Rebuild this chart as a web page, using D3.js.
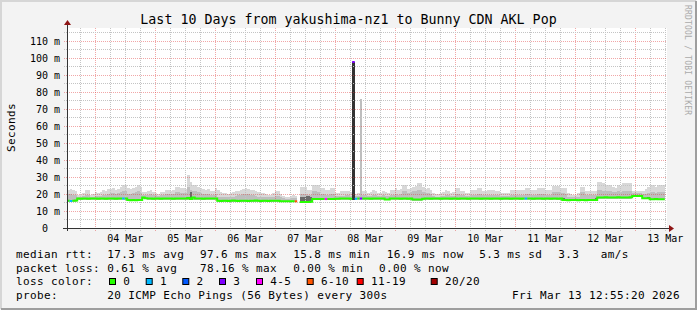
<!DOCTYPE html>
<html lang="en">
<head>
<meta charset="UTF-8">
<title>Last 10 Days from yakushima-nz1 to Bunny CDN AKL Pop</title>
<script src="https://cdnjs.cloudflare.com/ajax/libs/d3/7.8.5/d3.min.js"></script>
<style>
  html, body { margin: 0; padding: 0; background: #f3f3f3; }
  svg { display: block; }
  text { font-family: "DejaVu Sans Mono", monospace; fill: #000; }
</style>
</head>
<body>
<svg id="chart" width="697" height="310"></svg>
<script>
// hourly samples (ms), first one Mar 3 13:00, one row per day
var median = [
  16.0, 15.9, 16.0, 16.1, 17.3, 17.2, 17.3, 17.3, 17.2, 17.3, 17.3,
  17.3, 17.2, 17.3, 17.3, 17.2, 17.4, 17.3, 17.3, 17.2, 17.3, 17.3, 17.4, 17.3, 16.4, 16.3, 16.4, 16.3, 16.4, 16.5, 18.0, 17.5, 17.3, 17.3, 17.2,
  17.3, 17.3, 17.2, 17.3, 17.3, 17.4, 17.3, 17.2, 17.3, 17.3, 17.4, 17.3, 17.3, 17.6, 17.0, 18.0, 17.4, 17.3, 17.3, 17.2, 17.3, 17.3, 17.4, 17.3,
  17.3, 16.0, 15.9, 16.0, 16.0, 15.9, 16.0, 16.1, 16.0, 15.9, 16.0, 16.0, 16.0, 15.9, 16.0, 16.0, 16.1, 16.0, 15.9, 16.0, 16.0, 15.9, 16.0, 16.0,
  16.0, 16.0, 15.8, 15.8, 15.8, 15.7, 15.7, 15.7, 15.7, NaN, 15.3, 15.3, 15.3, 15.3, 15.4, 17.0, 17.0, 17.1, 17.0, 17.0, 17.0, 17.0, 17.0, 17.1,
  17.2, 17.2, 17.3, 17.3, 17.3, 17.3, 17.2, 97.6, 17.2, 17.3, 17.3, 17.3, 17.3, 17.3, 17.2, 17.3, 17.3, 17.4, 17.3, 17.3, 16.8, 16.8, 17.3, 17.3,
  17.3, 17.3, 17.2, 17.3, 17.3, 17.2, 17.3, 16.8, 16.8, 16.7, 16.8, 17.2, 17.3, 17.3, 17.2, 17.3, 17.3, 17.3, 17.2, 17.3, 17.3, 17.3, 17.2, 17.3,
  17.3, 17.2, 17.3, 17.3, 17.3, 17.2, 17.3, 17.3, 17.4, 17.3, 17.2, 17.3, 17.3, 17.3, 17.2, 17.3, 17.3, 17.3, 17.2, 17.3, 17.3, 17.3, 17.2, 17.3,
  17.3, 17.3, 17.2, 17.3, 17.4, 17.3, 17.3, 17.2, 17.3, 17.3, 17.3, 17.2, 17.3, 17.3, 17.2, 17.3, 17.3, 17.2, 17.3, 16.4, 16.4, 16.3, 16.4, 16.4,
  16.4, 16.3, 16.4, 16.4, 16.3, 16.4, 16.4, 16.4, 16.5, 18.0, 18.0, 18.0, 18.1, 18.0, 18.0, 18.0, 18.0, 18.1, 18.0, 18.0, 18.0, 18.0, 18.1, 18.8,
  18.8, 18.8, 18.8, 17.5, 17.5, 17.5, 16.9, 16.9, 17.0, 16.9, 16.9, 16.9
];
// highest ping of the hour (top of the smoke)
var smokeTop = [
  22.5, 23, 22.5, 22, 19.5, 19.5, 20.5, 22.4, 22.4, 19.5, 20,
  21, 20.5, 21, 22.5, 22, 23, 23, 23.5, 22.5, 23, 24, 25.3, 25, 23.5, 23, 23.5, 24, 25, 24, 21, 21, 22, 22.5, 21,
  20.5, 20, 21, 21, 22.5, 22.5, 22, 22.5, 24, 24, 23.5, 23.5, 23, 31, 27, 25.5, 25, 24, 23.5, 23, 22.5, 23, 22, 21.5,
  23.3, 22.5, 21, 20.5, 20.5, 20, 20.5, 21, 21.5, 22, 22.5, 23, 23.4, 23, 22.5, 22.5, 22, 21, 20.5, 20.5, 20, 19.5, 19.5, 20.5,
  21.5, 21.5, 20, 19, 18.5, 18.5, 19, 19.5, 19, NaN, 24.3, 24, 24.3, 22.4, 22.4, 25.3, 25.5, 25, 23.5, 23.5, 22.4, 22.4, 23.5, 23.5,
  20.4, 20.4, 21.5, 21.5, 22, 22, 21, 98, 20, 20.5, 75.9, 21.5, 21.5, 20.5, 21, 22.4, 22, 20.5, 20.5, 22, 21, 20.5, 22.4, 22.4,
  23.5, 22.5, 23, 25.3, 25.3, 23, 23.5, 24, 24.5, 26.3, 26.3, 24, 23, 23.5, 22.5, 20.5, 20, 20, 20.5, 21, 22.4, 22, 20.5, 21,
  23.5, 23.5, 21.5, 21.5, 20.5, 20.5, 22.4, 22.4, 22.4, 23.5, 23.5, 21.5, 21.5, 22.4, 22.4, 22.4, 21.5, 21.5, 20.5, 20.5, 20.5, 20.5, 22.4, 22.4,
  22.4, 22.4, 22.4, 22.4, 23.5, 23.5, 22.4, 22.4, 22.4, 23.5, 23.5, 23.5, 22.4, 22.4, 22.4, 24.5, 24.5, 24.5, 23.5, 23.5, 23.5, 20.4, 20, 19.5,
  19.5, 20.4, 24.3, 24.3, 22, 21.5, 21.5, 22, 21.5, 27.3, 27.3, 26.5, 25.5, 25.5, 25.5, 24, 23.5, 25, 24.5, 26.5, 26.5, 26.5, 26.3, 22,
  21.6, 21.6, 21.6, 21.6, 23, 24, 25.3, 25.3, 24, 25.3, 25.3, 25
];
// where the denser (medium grey) part of the smoke ends
var smokeMid = [
  20, 20, 19.5, 19.5, 18.5, 18.5, 19, 19.5, 19.5, 18.5, 18.5,
  19, 19, 19, 19.5, 19.5, 20, 20.5, 20.5, 20, 20.5, 21, 22, 21.5, 20, 20, 20.5, 21, 21.5, 20.5, 19.5, 19.5, 19.5, 20, 19.5,
  19.5, 19, 19.5, 19.5, 20, 20, 20, 20, 21, 21, 20.5, 20.5, 20.5, 24, 22.5, 22, 21.5, 21, 20.5, 20, 20, 20, 19.5, 19.5,
  20, 18.5, 18.5, 18.5, 18.5, 18, 18.5, 18.5, 19, 19.5, 19.5, 20, 20, 20, 19.5, 19.5, 19, 18.5, 18.5, 18.5, 18, 18, 18, 18.5,
  19, 19, 18, 17.5, 17, 17, 17.5, 17.5, 17.5, NaN, 20, 20, 20, 19.5, 19.5, 21.5, 21.5, 21, 20, 20, 19.5, 19.5, 20, 20,
  19, 19, 19, 19, 19.5, 19.5, 19, 97.6, 19, 19, 75.9, 19.5, 19.5, 19, 19, 19.5, 19.5, 19, 19, 19.5, 19, 19, 19.5, 19.5,
  20, 19.5, 20, 21.5, 21.5, 20.5, 21, 21.5, 22, 22.5, 22.5, 21, 20.5, 20.5, 20, 19, 18.5, 18.5, 19, 19, 19.5, 19.5, 19, 19,
  20, 20, 19.5, 19.5, 19, 19, 19.5, 19.5, 19.5, 20, 20, 19.5, 19.5, 19.5, 19.5, 19.5, 19.5, 19.5, 19, 19, 19, 19, 19.5, 19.5,
  19.5, 19.5, 19.5, 19.5, 20, 20, 19.5, 19.5, 19.5, 20, 20, 20, 19.5, 19.5, 19.5, 21, 21, 21, 20.5, 20.5, 20, 18.5, 18.5, 18,
  18, 18.5, 21, 21, 19.5, 19.5, 19.5, 19.5, 19.5, 22.5, 22.5, 22, 21.5, 21.5, 21.5, 21, 21, 21.5, 21, 22, 22, 22, 22, 20.5,
  20.5, 20.5, 20.5, 20, 20, 20.5, 21, 21, 20.5, 21, 21, 21
];
// lowest ping of the hour
var smokeLow = [
  15, 15, 15, 15.2, 16.6, 16.6, 16.6, 16.6, 16.6, 16.6, 16.6,
  16.6, 16.6, 16.6, 16.6, 16.6, 16.6, 16.6, 16.6, 16.6, 16.6, 16.6, 16.6, 16.6, 15.8, 15.8, 15.8, 15.8, 15.8, 15.8, 17.2, 16.8, 16.6, 16.6, 16.6,
  16.6, 16.6, 16.6, 16.6, 16.6, 16.6, 16.6, 16.6, 16.6, 16.6, 16.6, 16.6, 16.6, 16.6, 16.6, 16.6, 16.6, 16.6, 16.6, 16.6, 16.6, 16.6, 16.6, 16.6,
  16.6, 15.3, 15.3, 15.3, 15.3, 15.3, 15.3, 15.3, 15.3, 15.3, 15.3, 15.3, 15.3, 15.3, 15.3, 15.3, 15.3, 15.3, 15.3, 15.3, 15.3, 15.3, 15.3, 15.3,
  15.3, 15.3, 15.3, 15.3, 15.3, 15.3, 15.3, 15.3, 15.3, NaN, 14.6, 14.6, 14.7, 14.7, 14.8, 16.3, 16.3, 16.3, 16.3, 16.3, 16.3, 16.3, 16.3, 16.3,
  16.5, 16.5, 16.5, 16.5, 16.5, 16.5, 16.5, 16.5, 16.5, 16.5, 16.5, 16.5, 16.5, 16.5, 16.5, 16.5, 16.5, 16.5, 16.5, 16.5, 16.5, 16.5, 16.5, 16.5,
  16.5, 16.5, 16.5, 16.5, 16.5, 16.5, 16.5, 16.0, 16.0, 16.0, 16.0, 16.5, 16.5, 16.5, 16.5, 16.5, 16.5, 16.5, 16.5, 16.5, 16.5, 16.5, 16.5, 16.5,
  16.5, 16.5, 16.5, 16.5, 16.5, 16.5, 16.5, 16.5, 16.5, 16.5, 16.5, 16.5, 16.5, 16.5, 16.5, 16.5, 16.5, 16.5, 16.5, 16.5, 16.5, 16.5, 16.5, 16.5,
  16.5, 16.5, 16.5, 16.5, 16.5, 16.5, 16.5, 16.5, 16.5, 16.5, 16.5, 16.5, 16.5, 16.5, 16.5, 16.5, 16.5, 16.5, 16.5, 15.7, 15.7, 15.7, 15.7, 15.7,
  15.7, 15.7, 15.7, 15.7, 15.7, 15.7, 15.7, 15.7, 15.7, 17.3, 17.3, 17.3, 17.3, 17.3, 17.3, 17.3, 17.3, 17.3, 17.3, 17.3, 17.3, 17.3, 17.3, 18.0,
  18.0, 18.0, 18.0, 16.8, 16.8, 16.8, 16.2, 16.2, 16.2, 16.2, 16.2, 16.2
];
// hours where the smoke is dark (pings packed together)
var darkIdx = [49, 93, 94, 95, 96, 97, 114, 198, 211, 232];
var darkLo  = [16.6, 14.6, 14.6, 14.6, 14.7, 14.8, 16.4, 16.0, 16.1, 17.0];
var darkHi  = [21.0, 18.0, 18.5, 19.0, 19.0, 18.0, 97.6, 17.6, 17.4, 18.2];
// hours with lost pings (out of 20)
var lossIdx = [1, 22, 91, 103, 114, 115, 117, 183];
var lossVal = [1, 1, 7, 4, 3, 1, 3, 1];

var lossLabels = ["0", "1", "2", "3", "4-5", "6-10", "11-19", "20/20"];
var lossMax    = [0, 1, 2, 3, 5, 10, 19, 20];
var lossColors = ["#26ff00", "#00b8ff", "#0059ff", "#7e00ff", "#ff00ff", "#ff5500", "#ff0000", "#a10000"];

var yTicks = [0, 10, 20, 30, 40, 50, 60, 70, 80, 90, 100, 110];
var xTickDays = [4, 5, 6, 7, 8, 9, 10, 11, 12, 13];
var xTickLabels = ["04 Mar", "05 Mar", "06 Mar", "07 Mar", "08 Mar", "09 Mar", "10 Mar", "11 Mar", "12 Mar", "13 Mar"];

var rttStats  = ["17.3 ms avg", "97.6 ms max", "15.8 ms min", "16.9 ms now", "5.3 ms sd", "3.3", "am/s"];
var lossStats = ["0.61 % avg", "78.16 % max", "0.00 % min", "0.00 % now"];

var startTime = Date.UTC(2026, 2, 3, 13);
var stepMs = 3600 * 1000;

var svg = d3.select("#chart");
var W = +svg.attr("width"), H = +svg.attr("height");
var plot = { left: 67, right: 667, top: 28, bottom: 228 };

var x = d3.scaleUtc()
    .domain([new Date(Date.UTC(2026, 2, 3, 12, 55, 20)), new Date(Date.UTC(2026, 2, 13, 12, 55, 20))])
    .range([plot.left, plot.right]);
var y = d3.scaleLinear().domain([0, 117.6]).range([plot.bottom, plot.top]);

// background + 3d border
svg.append("rect").attr("width", W).attr("height", H).attr("fill", "#f3f3f3");
svg.append("path").attr("d", "M1,309V1H696").attr("fill", "none").attr("stroke", "#d6d6d6").attr("stroke-width", 2);
svg.append("path").attr("d", "M1,309H696V1").attr("fill", "none").attr("stroke", "#9e9e9e").attr("stroke-width", 2);
svg.append("rect").attr("x", plot.left).attr("y", plot.top)
    .attr("width", plot.right - plot.left).attr("height", plot.bottom - plot.top).attr("fill", "#fff");

// each hour is a flat step: two vertices per sample
function steps(lo, hi) {
    var out = [];
    median.forEach(function (m, i) {
        var t0 = startTime + i * stepMs;
        out.push({ t: t0, lo: lo[i], hi: hi[i] }, { t: t0 + stepMs, lo: lo[i], hi: hi[i] });
    });
    return out;
}
var area = d3.area()
    .defined(function (d) { return !isNaN(d.lo) && !isNaN(d.hi); })
    .x(function (d) { return x(d.t); })
    .y0(function (d) { return y(d.lo); })
    .y1(function (d) { return y(d.hi); });

var smoke = svg.append("g").attr("shape-rendering", "crispEdges");
smoke.append("path").attr("d", area(steps(smokeLow, smokeTop))).attr("fill", "#d8d8d8");
smoke.append("path").attr("d", area(steps(smokeLow, smokeMid))).attr("fill", "#bebebe");
smoke.selectAll(".dark").data(darkIdx).enter().append("rect")
    .attr("x", function (d) { return x(startTime + d * stepMs); })
    .attr("width", function (d) { return x(startTime + (d + 1) * stepMs) - x(startTime + d * stepMs); })
    .attr("y", function (d, i) { return y(darkHi[i]); })
    .attr("height", function (d, i) { return y(darkLo[i]) - y(darkHi[i]); })
    .attr("fill", function (d, i) { return darkHi[i] - darkLo[i] > 20 ? "#333" : "#6a6a6a"; });

// grid
var grid = svg.append("g").attr("stroke-dasharray", "1,1").attr("stroke-width", 1);
var minorColor = "#c4c4c4", majorColor = "rgba(225,60,60,0.45)";
var sixHours = d3.utcHour.every(6).range(x.domain()[0], x.domain()[1]);
sixHours.forEach(function (t) {
    var px = Math.round(x(t)) + 0.5;
    var major = t.getUTCHours() === 0;
    grid.append("line").attr("x1", px).attr("x2", px).attr("y1", plot.top).attr("y2", plot.bottom)
        .attr("stroke", major ? majorColor : minorColor);
    grid.append("line").attr("x1", px).attr("x2", px).attr("y1", plot.bottom).attr("y2", plot.bottom + 3)
        .attr("stroke", major ? majorColor : minorColor).attr("stroke-dasharray", null);
});
d3.range(5, 117, 5).forEach(function (v) {
    var py = Math.round(y(v)) + 0.5;
    var major = v % 10 === 0;
    grid.append("line").attr("x1", plot.left).attr("x2", plot.right).attr("y1", py).attr("y2", py)
        .attr("stroke", major ? majorColor : minorColor);
    grid.append("line").attr("x1", plot.left - 3).attr("x2", plot.left).attr("y1", py).attr("y2", py)
        .attr("stroke", major ? majorColor : minorColor).attr("stroke-dasharray", null);
});

// median line, one path per loss colour
var lossAt = median.map(function () { return 0; });
lossIdx.forEach(function (idx, k) { lossAt[idx] = lossVal[k]; });
function bucket(l) {
    for (var b = 0; b < lossMax.length; b++) if (l <= lossMax[b]) return b;
    return lossMax.length - 1;
}
var line = d3.line()
    .defined(function (d) { return !isNaN(d.v); })
    .x(function (d) { return x(d.t); })
    .y(function (d) { return y(d.v); });
lossColors.forEach(function (c, b) {
    var pts = [];
    median.forEach(function (m, i) {
        var t0 = startTime + i * stepMs;
        if (bucket(lossAt[i]) === b && !isNaN(m)) pts.push({ t: t0, v: m }, { t: t0 + stepMs, v: m });
        else pts.push({ t: t0, v: NaN });
    });
    svg.append("path").attr("d", line(pts)).attr("fill", "none")
        .attr("stroke", c).attr("stroke-width", 2);
});

// axes
var axisColor = "#333", arrowColor = "#8e1515";
svg.append("line").attr("x1", plot.left - 4).attr("x2", plot.right + 3)
    .attr("y1", plot.bottom + 0.5).attr("y2", plot.bottom + 0.5).attr("stroke", axisColor);
svg.append("line").attr("x1", plot.left + 0.5).attr("x2", plot.left + 0.5)
    .attr("y1", plot.bottom + 3).attr("y2", plot.top - 4).attr("stroke", axisColor);
svg.append("path").attr("d", "M" + (plot.right + 2) + "," + (plot.bottom - 3) + "L" + (plot.right + 7) + "," + (plot.bottom + 0.5) + "L" + (plot.right + 2) + "," + (plot.bottom + 4) + "Z").attr("fill", arrowColor);
svg.append("path").attr("d", "M" + (plot.left - 3) + "," + (plot.top - 3) + "L" + (plot.left + 0.5) + "," + (plot.top - 8) + "L" + (plot.left + 4) + "," + (plot.top - 3) + "Z").attr("fill", arrowColor);

var yAxis = svg.append("g").attr("transform", "translate(" + plot.left + ",0)")
    .call(d3.axisLeft(y).tickValues(yTicks).tickSize(0).tickPadding(7)
        .tickFormat(function (d) { return d === 0 ? "0" : d + " m"; }));
yAxis.select(".domain").remove();
yAxis.selectAll("text").attr("font-family", "DejaVu Sans Mono").attr("font-size", "10px").attr("fill", "#000")
    .filter(function (d) { return d === 0; }).attr("dx", -12);

var xAxis = svg.append("g").attr("transform", "translate(0," + plot.bottom + ")")
    .call(d3.axisBottom(x)
        .tickValues(xTickDays.map(function (d) { return new Date(Date.UTC(2026, 2, d, 12)); }))
        .tickSize(0).tickPadding(7)
        .tickFormat(function (d, i) { return xTickLabels[i]; }));
xAxis.select(".domain").remove();
xAxis.selectAll("text").attr("font-family", "DejaVu Sans Mono").attr("font-size", "10px").attr("fill", "#000");

// title, axis label, watermark
svg.append("text").attr("x", 348.5).attr("y", 24).attr("text-anchor", "middle")
    .attr("font-size", "13.3px").text("Last 10 Days from yakushima-nz1 to Bunny CDN AKL Pop");
svg.append("text").attr("transform", "translate(15,127.5) rotate(-90)").attr("text-anchor", "middle")
    .attr("font-size", "11px").style("letter-spacing", "0.38px").text("Seconds");
svg.append("text").attr("transform", "translate(685,5) rotate(90)")
    .attr("font-size", "8px").style("letter-spacing", "0.2px").style("fill", "#aaa")
    .text("RRDTOOL / TOBI OETIKER");

// legend
var legend = svg.append("g").attr("font-size", "11px").style("letter-spacing", "0.38px");
function lt(xp, yp, s, anchor) {
    legend.append("text").attr("x", xp).attr("y", yp).attr("text-anchor", anchor || "start")
        .attr("xml:space", "preserve").text(s);
}
var rows = [258.3, 271.7, 285.3, 299];
lt(16, rows[0], "median rtt:");
[107.3, 200, 293.3, 386.7, 479.3, 558.3, 600.7].forEach(function (xp, i) { lt(xp, rows[0], rttStats[i]); });
lt(16, rows[1], "packet loss:");
[107.3, 200, 293.3, 379].forEach(function (xp, i) { lt(xp, rows[1], lossStats[i]); });
lt(16, rows[2], "loss color:");
[109, 145.7, 182.3, 219, 256, 306.7, 356.7, 430.7].forEach(function (xp, i) {
    legend.append("rect").attr("x", xp + 0.5).attr("y", 278.5).attr("width", 6).attr("height", 6)
        .attr("fill", lossColors[i]).attr("stroke", "#000").attr("stroke-width", 1);
    lt(xp + 14.3, rows[2], lossLabels[i]);
});
lt(16, rows[3], "probe:");
lt(107.3, rows[3], "20 ICMP Echo Pings (56 Bytes) every 300s");
lt(680, rows[3], "Fri Mar 13 12:55:20 2026", "end");
</script>
</body>
</html>
